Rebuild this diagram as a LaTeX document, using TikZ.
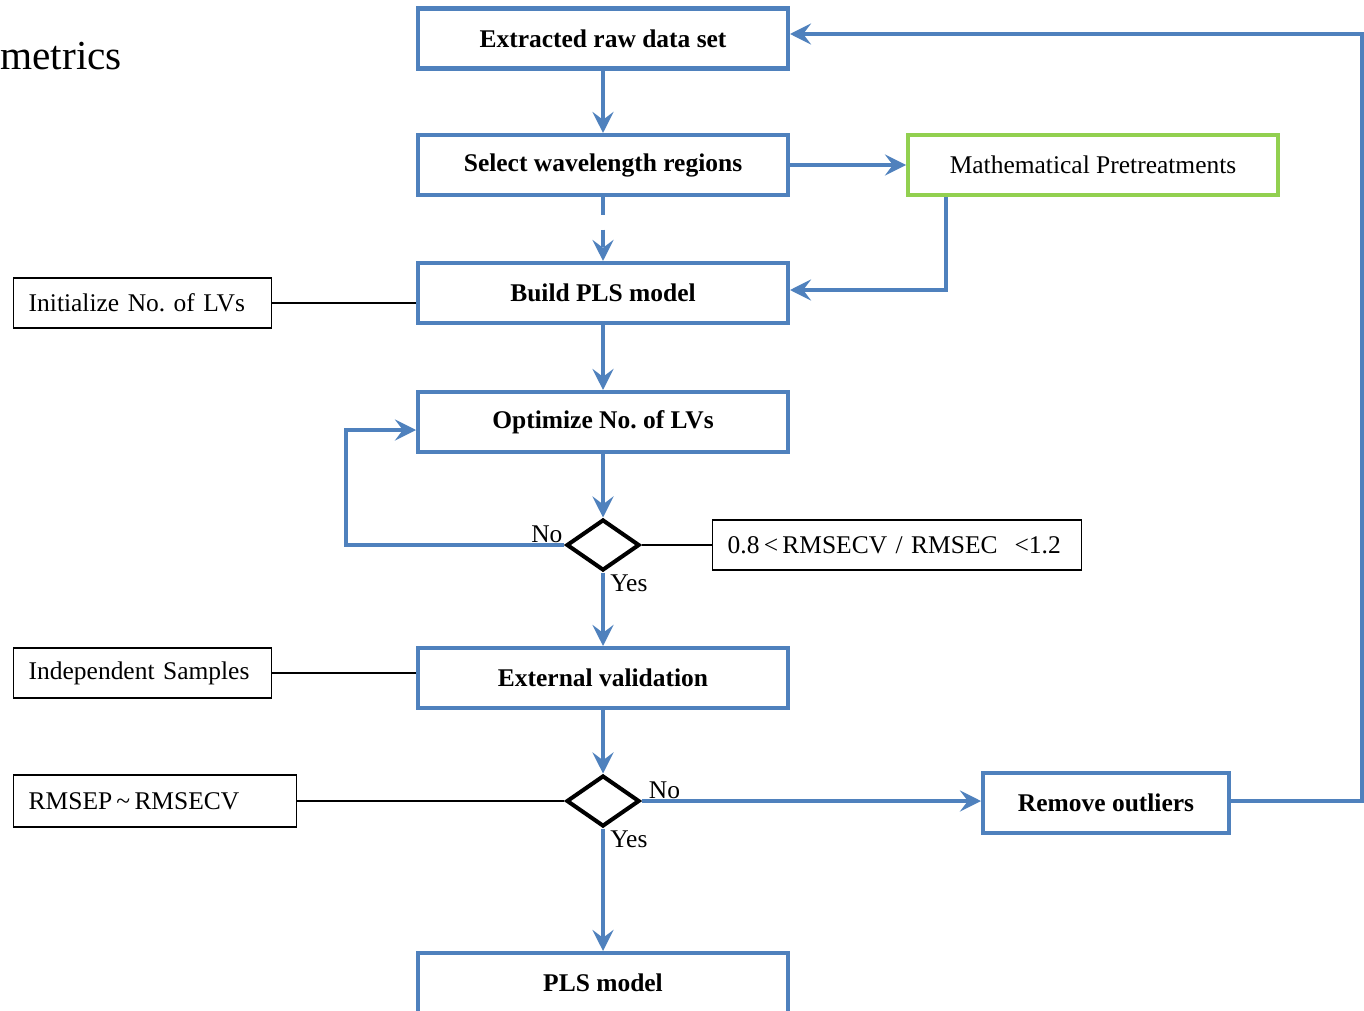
\documentclass[tikz,border=0pt]{standalone}
\usepackage{fontspec}
\setmainfont{Liberation Serif}
\usetikzlibrary{arrows.meta, positioning, shapes.geometric}
\definecolor{flowblue}{RGB}{79,129,189}
\definecolor{flowgreen}{RGB}{146,208,80}
\frenchspacing

\begin{document}
\begin{tikzpicture}[x=0.02cm, y=-0.02cm,
    >={Stealth[length=12pt, width=12pt, inset=4.5pt]},
    font=\fontsize{14.5}{17}\selectfont,
    stepbox/.style={draw=flowblue, line width=2.3pt, minimum width=7.4cm,
                    minimum height=1.2cm, inner sep=0pt,
                    font=\fontsize{14.5}{17}\selectfont\bfseries},
    notebox/.style={draw, line width=0.8pt, anchor=west, align=left,
                    inner xsep=0.3cm, inner ysep=0pt, minimum height=1cm},
    decision/.style={diamond, draw, line width=2.3pt, inner sep=0pt,
                     minimum width=1.46cm, minimum height=1.02cm},
    flow/.style={flowblue, line width=2.3pt},
    link/.style={line width=0.8pt}]

\useasboundingbox (0,0) rectangle (1364,1010);
\clip (0,0) rectangle (1364,1010);

% ---- Cut-off title -------------------------------------------------------
\node[anchor=base west, inner sep=0pt, font=\fontsize{23.5}{28}\selectfont]
      (title) at (0,70) {metrics};

% ---- Main steps -----------------------------------------------------------
\node[stepbox] (extracted) at (603,38.5) {Extracted raw data set};
\node[stepbox] (select)    at (603,165)  {Select wavelength regions};
\node[stepbox, draw=flowgreen, font=\fontsize{14.5}{17}\selectfont]
      (pretreat) at (1093,165) {Mathematical Pretreatments};
\node[stepbox] (build)     at (603,293)  {Build PLS model};
\node[stepbox] (optimize)  at (603,422)  {Optimize No. of LVs};
\node[decision] (check1)   at (603,545)  {};
\node[stepbox] (external)  at (603,678)  {External validation};
\node[decision] (check2)   at (603,801)  {};
\node[stepbox, minimum width=4.92cm] (outliers) at (1106,803) {Remove outliers};
\node[stepbox] (final)     at (603,983)  {PLS model};

% ---- Side notes -----------------------------------------------------------
\node[notebox, text width=4.56cm] (initlv) at (13,303) {Initialize No. of LVs};
\node[notebox, text width=4.56cm] (indep)  at (13,673) {Independent Samples};
\node[notebox, text width=5.06cm, minimum height=1.04cm]
      (rmsep) at (13,801) {RMSEP\,\textasciitilde\,RMSECV};
\node[notebox, text width=6.78cm] (ratio)  at (712,545)
      {0.8\,<\,RMSECV / RMSEC \ <1.2};

\draw[link] (initlv.east) -- (initlv.east -| build.west);
\draw[link] (indep.east) -- (indep.east -| external.west);
\draw[link] (rmsep) -- (check2);
\draw[link] (check1) -- (ratio);

% ---- Decision labels ------------------------------------------------------
\node[anchor=south east, inner sep=1pt] (no1)  at (check1.west)  {No};
\node[anchor=north west, inner sep=1pt, xshift=3pt] (yes1) at (check1.south) {Yes};
\node[anchor=south west, inner sep=1pt, xshift=3pt] (no2)  at (check2.east)  {No};
\node[anchor=north west, inner sep=1pt, xshift=3pt] (yes2) at (check2.south) {Yes};

% ---- Flow -----------------------------------------------------------------
\draw[flow,->] (extracted) -- (select);
\draw[flow,->] (select) -- (pretreat);
\draw[flow,->, dash pattern=on 10pt off 8.5pt] (select) -- (build);
\draw[flow,->] (pretreat.south -| 946,0) |- (build.east |- 0,290);
\draw[flow,->] (build) -- (optimize);
\draw[flow,->] (optimize) -- (check1);
\draw[flow,->] (check1.west) -- (346,545) |- (optimize.west |- 0,430);
\draw[flow,->] (check1) -- (external);
\draw[flow,->] (external) -- (check2);
\draw[flow,->] (check2.east) -- (check2.east -| outliers.west);
\draw[flow,->] (check2) -- (final);
\draw[flow,->] (outliers.east |- 0,801) -- (1362,801) |- (extracted.east |- 0,34);

\end{tikzpicture}
\end{document}
